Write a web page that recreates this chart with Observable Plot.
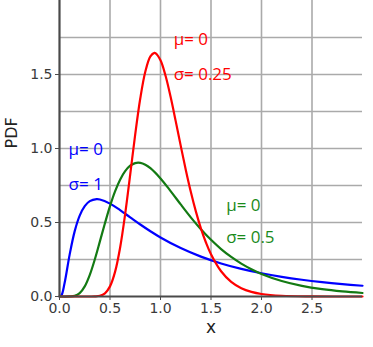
<!DOCTYPE html>
<html><head><meta charset="utf-8">
<script src="https://cdn.jsdelivr.net/npm/d3@7"></script>
<script src="https://cdn.jsdelivr.net/npm/@observablehq/plot@0.6"></script>
<style>body{margin:0;background:#fff;} svg{display:block;}</style>
</head><body><div id="chart"></div>
<script>
// σ = 1 (blue)
const blueX = [0, 0.02, 0.05, 0.1, 0.15, 0.2, 0.25, 0.3, 0.368, 0.4, 0.5, 0.6, 0.7, 0.8, 0.9, 1.0, 1.2, 1.4, 1.6, 1.8, 2.0, 2.2, 2.4, 2.6, 2.8, 3.0];
const blueY = [0, 0.0095, 0.0898, 0.2815, 0.4399, 0.5464, 0.6104, 0.6442, 0.6577, 0.6555, 0.6276, 0.5836, 0.5348, 0.4864, 0.4408, 0.3989, 0.3270, 0.2693, 0.2233, 0.1865, 0.1569, 0.1329, 0.1133, 0.0972, 0.0839, 0.0727];
// σ = 0.5 (green)
const greenX = [0, 0.1, 0.15, 0.2, 0.25, 0.3, 0.35, 0.4, 0.45, 0.5, 0.55, 0.6, 0.65, 0.7, 0.75, 0.8, 0.85, 0.9, 1.0, 1.1, 1.2, 1.3, 1.4, 1.5, 1.6, 1.7, 1.8, 1.9, 2.0, 2.2, 2.4, 2.6, 2.8, 3.0];
const greenY = [0, 0.0002, 0.0040, 0.0225, 0.0683, 0.1465, 0.2515, 0.3722, 0.4953, 0.6105, 0.7099, 0.7892, 0.8469, 0.8837, 0.9015, 0.9028, 0.8904, 0.8670, 0.7979, 0.7123, 0.6221, 0.5348, 0.4544, 0.3829, 0.3206, 0.2672, 0.2221, 0.1842, 0.1526, 0.1046, 0.0718, 0.0494, 0.0342, 0.0238];
// σ = 0.25 (red)
const redX = [0, 0.2, 0.3, 0.35, 0.4, 0.45, 0.5, 0.55, 0.6, 0.65, 0.7, 0.75, 0.8, 0.85, 0.9, 0.94, 0.95, 1.0, 1.05, 1.1, 1.15, 1.2, 1.25, 1.3, 1.35, 1.4, 1.45, 1.5, 1.6, 1.7, 1.8, 1.9, 2.0, 2.2, 2.5, 3.0];
const redY = [0, 0, 0, 0.0007, 0.0048, 0.0216, 0.0684, 0.1663, 0.3298, 0.5563, 0.8238, 1.0973, 1.3395, 1.5198, 1.6223, 1.6464, 1.6448, 1.5958, 1.4911, 1.3490, 1.1868, 1.0193, 0.8571, 0.7077, 0.5751, 0.4608, 0.3647, 0.2855, 0.1704, 0.0987, 0.0559, 0.0311, 0.0171, 0.0050, 0.0008, 0.0001];

const xTicks = [0, 0.5, 1.0, 1.5, 2.0, 2.5];
const yTicks = [0, 0.5, 1.0, 1.5];
const xGrid = [0.5, 1.0, 1.5, 2.0, 2.5];
const yGrid = [0.25, 0.5, 0.75, 1.0, 1.25, 1.5, 1.75];

const labelText = ["μ= 0", "σ= 0.25", "μ= 0", "σ= 1", "μ= 0", "σ= 0.5"];
const labelX = [1.13, 1.13, 0.09, 0.09, 1.65, 1.65];
const labelY = [1.735, 1.50, 0.99, 0.757, 0.615, 0.40];
const labelColor = ["#ff0000", "#ff0000", "#0000ff", "#0000ff", "#1a8a1a", "#1a8a1a"];

const curves = [
  {xs: blueX, ys: blueY, color: "#0000ff"},
  {xs: greenX, ys: greenY, color: "#137a13"},
  {xs: redX, ys: redY, color: "#ff0000"}
];
const labels = labelText.map((t, i) => ({t, x: labelX[i], y: labelY[i], c: labelColor[i]}));

const plot = Plot.plot({
  width: 373, height: 347,
  marginLeft: 59, marginRight: 11, marginTop: 0, marginBottom: 51,
  style: {fontFamily: "DejaVu Sans, sans-serif", fontSize: "12px", color: "#3a3a3a", background: "#fff"},
  x: {domain: [0, 3], label: null},
  y: {domain: [0, 2], label: null},
  marks: [
    Plot.ruleX(xGrid, {stroke: "#aaaaaa", strokeWidth: 1.6}),
    Plot.ruleY(yGrid, {stroke: "#aaaaaa", strokeWidth: 1.6}),
    ...curves.map(c => Plot.line(c.xs.map((x, i) => ({x, y: c.ys[i]})), {x: "x", y: "y", stroke: c.color, strokeWidth: 2.2, curve: "catmull-rom"})),
    Plot.ruleX([0], {stroke: "#4a4a4a", strokeWidth: 2.2}),
    Plot.ruleY([0], {stroke: "#4a4a4a", strokeWidth: 2.2}),
    Plot.axisX({ticks: xTicks, tickFormat: d3.format(".1f"), tickSize: 4, tickPadding: 3, fontSize: 14, label: null, stroke: "#4a4a4a"}),
    Plot.axisY({ticks: yTicks, tickFormat: d3.format(".1f"), tickSize: 4, tickPadding: 3, fontSize: 14, label: null, stroke: "#4a4a4a"}),
    Plot.text(labels, {x: "x", y: "y", text: "t", fill: "c", textAnchor: "start", fontSize: 17, fontFamily: "Open Sans, sans-serif"}),
    Plot.text(["x"], {frameAnchor: "bottom", dy: 36, fontSize: 17, fill: "#222"}),
    Plot.text(["PDF"], {frameAnchor: "left", dx: -48, rotate: -90, fontSize: 16, fill: "#222"})
  ]
});
document.getElementById("chart").appendChild(plot);
</script>
</body></html>
